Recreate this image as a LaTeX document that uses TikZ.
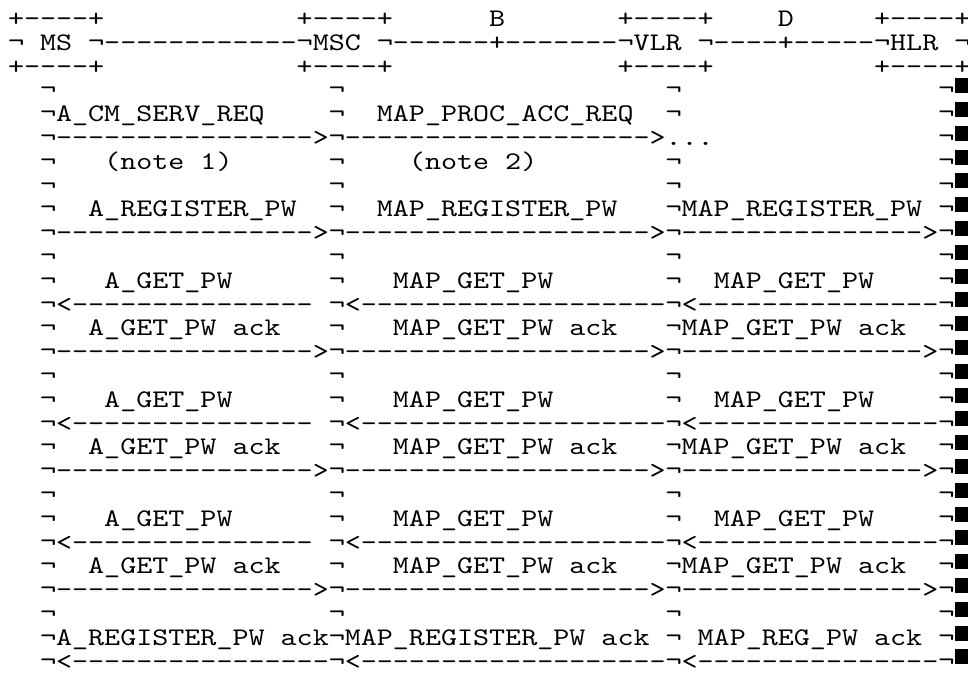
\documentclass[tikz,border=0pt]{standalone}
\usepackage{fontspec}
\setmonofont{lmmono10-regular}[Extension=.otf, FakeStretch=1.206]
\newcommand\asc{\ttfamily\fontsize{19pt}{24pt}\selectfont}
\newlength\colw
\setlength\colw{12.03pt}
\newcommand\gap[1]{\hspace*{#1\colw}}
\newcommand\dsh[1]{\foreach\k in {1,...,#1}{-}}

\begin{document}
\begin{tikzpicture}[
    x=12.03pt, y=-17.85pt,
    line/.style={anchor=base west, inner sep=0pt, outer sep=0pt, font=\asc},
    blot/.style={fill=black}
]
\useasboundingbox (-6pt,19.8pt) rectangle (720pt,-484.2pt);

\node[line] (top) at (0,0) {+\dsh{4}+\gap{12}+\dsh{4}+\gap{6}B\gap{7}+\dsh{4}+\gap{4}D\gap{5}+\dsh{4}+};
\node[line] (ents) at (0,1) {¬ MS ¬\dsh{12}¬MSC ¬\dsh{6}+\dsh{7}¬VLR ¬\dsh{4}+\dsh{5}¬HLR ¬};
\node[line] (bot) at (0,2) {+\dsh{4}+\gap{12}+\dsh{4}+\gap{14}+\dsh{4}+\gap{10}+\dsh{4}+};

\foreach \r in {3,7,10,15,20,25}
  \node[line] (life\r) at (0,\r) {\gap{2}¬\gap{17}¬\gap{20}¬\gap{16}¬};

\node[line] (servreq) at (0,4) {\gap{2}¬A\_CM\_SERV\_REQ\gap{4}¬\gap{2}MAP\_PROC\_ACC\_REQ\gap{2}¬\gap{16}¬};
\node[line] (servarr) at (0,5) {\gap{2}¬\dsh{16}>¬\dsh{19}>...\gap{14}¬};
\node[line] (notes) at (0,6) {\gap{2}¬\gap{3}(note 1)\gap{6}¬\gap{4}(note 2)\gap{8}¬\gap{16}¬};
\node[line] (regpw) at (0,8) {\gap{2}¬\gap{2}A\_REGISTER\_PW\gap{2}¬\gap{2}MAP\_REGISTER\_PW\gap{3}¬MAP\_REGISTER\_PW ¬};
\node[line] (regarr) at (0,9) {\gap{2}¬\dsh{16}>¬\dsh{19}>¬\dsh{15}>¬};

\foreach \r in {11,16,21} {
  \node[line] (getpw\r) at (0,\r) {\gap{2}¬\gap{3}A\_GET\_PW\gap{6}¬\gap{3}MAP\_GET\_PW\gap{7}¬\gap{2}MAP\_GET\_PW\gap{4}¬};
  \node[line] (getarr\r) at (0,\r+1) {\gap{2}¬<\dsh{15}\gap{1}¬<\dsh{19}¬<\dsh{15}¬};
  \node[line] (getack\r) at (0,\r+2) {\gap{2}¬\gap{2}A\_GET\_PW ack\gap{3}¬\gap{3}MAP\_GET\_PW ack\gap{3}¬MAP\_GET\_PW ack\gap{2}¬};
  \node[line] (ackarr\r) at (0,\r+3) {\gap{2}¬\dsh{16}>¬\dsh{19}>¬\dsh{15}>¬};
}

\node[line] (regack) at (0,26) {\gap{2}¬A\_REGISTER\_PW ack¬MAP\_REGISTER\_PW ack ¬ MAP\_REG\_PW ack ¬};
\node[line] (regackarr) at (0,27) {\gap{2}¬<\dsh{16}¬<\dsh{19}¬<\dsh{15}¬};

\foreach \r in {3,...,27}
  \fill[blot] (59,\r) ++(0.8pt,3.4pt) rectangle ++(12pt,11.25pt);
\end{tikzpicture}
\end{document}
